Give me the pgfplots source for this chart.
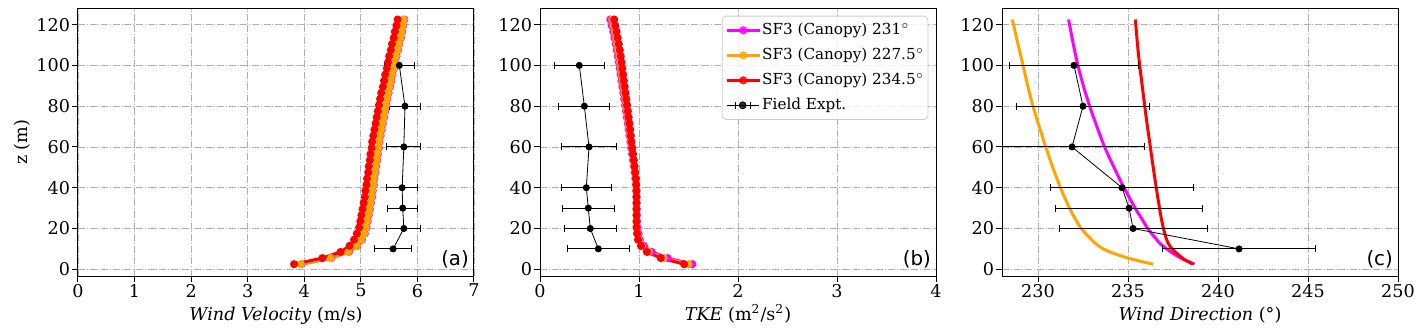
\documentclass[border=0pt]{standalone}
\usepackage{fontspec}
\setmainfont{DejaVu Serif}
\newfontfamily\dvsans{DejaVu Sans}
\usepackage{pgfplots}
\usepackage{pgfplotstable}
\pgfplotsset{compat=1.18}

\definecolor{gridgray}{RGB}{176,176,176}
\definecolor{sfmag}{RGB}{255,0,255}
\definecolor{sforange}{RGB}{255,165,0}
\definecolor{sfred}{RGB}{255,0,0}

% simulated profiles, SF3 canopy runs (velocity and TKE)
\pgfplotstableread{
z     u231 u227 u234 k231  k227  k234
2.5   3.95 3.94 3.82 1.540 1.500 1.455
5.5   4.48 4.47 4.32 1.290 1.250 1.220
8.5   4.79 4.78 4.64 1.130 1.100 1.080
11.5  4.94 4.93 4.80 1.050 1.030 1.020
14.5  5.02 5.01 4.88 1.010 1.000 0.990
17.5  5.07 5.06 4.93 0.995 0.985 0.980
20.5  5.10 5.09 4.97 0.985 0.975 0.975
23.5  5.12 5.11 4.99 0.980 0.975 0.975
26.5  5.14 5.13 5.01 0.978 0.975 0.975
29.5  5.16 5.15 5.03 0.976 0.975 0.975
32.5  5.18 5.17 5.05 0.975 0.975 0.975
35.5  5.20 5.19 5.07 0.974 0.975 0.975
38.5  5.21 5.20 5.08 0.972 0.974 0.975
41.5  5.23 5.22 5.10 0.969 0.971 0.972
44.5  5.24 5.23 5.11 0.963 0.966 0.968
47.5  5.26 5.25 5.13 0.956 0.960 0.962
50.5  5.27 5.26 5.14 0.948 0.952 0.955
53.5  5.29 5.28 5.16 0.939 0.944 0.948
56.5  5.30 5.29 5.17 0.930 0.936 0.940
59.5  5.32 5.31 5.19 0.921 0.927 0.932
62.5  5.33 5.32 5.20 0.912 0.919 0.925
65.5  5.35 5.34 5.22 0.903 0.911 0.918
68.5  5.37 5.36 5.24 0.895 0.903 0.911
71.5  5.39 5.38 5.26 0.886 0.895 0.904
74.5  5.41 5.40 5.28 0.877 0.887 0.896
77.5  5.43 5.42 5.30 0.868 0.878 0.888
80.5  5.45 5.44 5.32 0.859 0.869 0.880
83.5  5.47 5.46 5.34 0.850 0.861 0.872
86.5  5.49 5.48 5.36 0.841 0.852 0.864
89.5  5.52 5.51 5.39 0.832 0.844 0.856
92.5  5.54 5.53 5.41 0.823 0.835 0.848
95.5  5.56 5.55 5.43 0.814 0.826 0.840
98.5  5.59 5.58 5.46 0.805 0.817 0.832
101.5 5.61 5.60 5.48 0.796 0.809 0.824
104.5 5.63 5.62 5.50 0.786 0.800 0.816
107.5 5.66 5.65 5.53 0.775 0.789 0.806
110.5 5.68 5.67 5.55 0.764 0.778 0.796
113.5 5.71 5.70 5.58 0.752 0.767 0.785
116.5 5.73 5.72 5.60 0.740 0.755 0.774
119.5 5.75 5.74 5.63 0.725 0.743 0.762
122.5 5.77 5.76 5.65 0.710 0.730 0.750
}\profiles

% wind direction profiles
\pgfplotstableread{
z     d231   d227   d234
2.5   238.70 236.40 238.60
5     238.05 235.20 238.10
7.5   237.55 234.30 237.75
10    237.15 233.62 237.45
12.5  236.80 233.22 237.25
15    236.55 232.92 237.13
20    236.10 232.40 236.97
25    235.75 232.05 236.85
30    235.40 231.75 236.75
40    234.78 231.25 236.57
50    234.22 230.82 236.40
60    233.70 230.43 236.24
70    233.27 230.07 236.08
80    232.87 229.72 235.93
90    232.52 229.43 235.79
100   232.22 229.17 235.65
110   231.97 228.90 235.53
122.5 231.70 228.57 235.41
}\direction

% field experiment: value, half error, height
\pgfplotstableread{
z   u    eu   k     ek    d      ed
10  5.57 0.33 0.589 0.310 241.17 4.27
20  5.76 0.30 0.508 0.265 235.28 4.11
30  5.74 0.27 0.488 0.262 235.06 4.07
40  5.73 0.27 0.468 0.250 234.67 3.95
60  5.76 0.30 0.495 0.277 231.89 4.00
80  5.78 0.27 0.448 0.257 232.50 3.70
100 5.68 0.26 0.397 0.255 232.00 3.56
}\field

\newcommand{\fs}{\fontsize{8.8}{10.5}\selectfont}

\pgfplotsset{
  panel/.style={
    width=198pt, height=133.75pt, scale only axis,
    ymin=-3.3, ymax=127.9, ytick={0,20,...,120},
    grid=major,
    grid style={gridgray, line width=0.4pt, dash pattern=on 3.5pt off 0.9pt on 0.5pt off 0.9pt},
    axis line style={line width=0.5pt},
    tick align=outside, tick pos=left, major tick length=2.8pt,
    tick style={black, line width=0.5pt},
    ticklabel style={font=\fs, inner sep=1pt},
    /pgf/number format/assume math mode=true,
    every axis x label/.style={at={(axis description cs:0.5,-0.167)}, anchor=base, font=\fs},
    every axis y label/.style={at={(axis description cs:-0.142,0.5)}, rotate=90, anchor=center, font=\fs},
  },
  prof/.style={line width=1.5pt, mark=*, mark size=1.8pt, mark options={solid, line width=0.4pt}},
  line/.style={line width=1.5pt, no markers, smooth},
  field/.style={black, line width=0.4pt, mark=*, mark size=1.55pt,
    error bars/x dir=both, error bars/x explicit,
    error bars/error bar style={line width=0.5pt, black},
    error bars/error mark options={black, mark size=1.75pt, line width=0.5pt, rotate=90}},
}

\newcommand{\panellabel}[1]{\node[anchor=south east, inner sep=0pt, font=\dvsans\fontsize{9.9}{12}\selectfont] at (rel axis cs:0.988,0.029) {#1};}

\begin{document}
\begin{tikzpicture}
% (a) wind velocity
\begin{axis}[panel, at={(0pt,0pt)}, anchor=south west,
  xmin=0, xmax=7, xtick={0,1,...,7},
  xlabel={\textit{Wind Velocity} (m/s)}, ylabel={z (m)}]
\addplot[prof, sfmag] table[x=u231, y=z] {\profiles};
\addplot[prof, sforange] table[x=u227, y=z] {\profiles};
\addplot[prof, sfred] table[x=u234, y=z] {\profiles};
\addplot[field] table[x=u, y=z, x error=eu] {\field};
\panellabel{(a)}
\end{axis}

% (b) turbulent kinetic energy
\begin{axis}[panel, at={(231pt,0pt)}, anchor=south west,
  xmin=0, xmax=4, xtick={0,1,...,4},
  xlabel={\textit{TKE} (m\textsuperscript{2}/s\textsuperscript{2})},
  legend cell align=left,
  legend style={at={(rel axis cs:0.9806,0.973)}, anchor=north east,
    draw=black!20, rounded corners=2pt, fill=white, fill opacity=0.8, text opacity=1,
    font=\fontsize{7.6}{9}\selectfont, row sep=2.3pt, inner xsep=1.5pt,
    nodes={inner ysep=1.5pt, inner xsep=0.4pt, text height=5.6pt, text depth=1.6pt}},
  legend image post style={xscale=0.97}]
\addplot[prof, sfmag] table[x=k231, y=z] {\profiles};
\addlegendentry{SF3 (Canopy) 231$^\circ$}
\addplot[prof, sforange] table[x=k227, y=z] {\profiles};
\addlegendentry{SF3 (Canopy) 227.5$^\circ$}
\addplot[prof, sfred] table[x=k234, y=z] {\profiles};
\addlegendentry{SF3 (Canopy) 234.5$^\circ$}
\addplot[field, legend image code/.code={
    \draw[black, line width=0.4pt] (0pt,0pt) -- (16.5pt,0pt);
    \draw[black, line width=0.5pt] (4.5pt,-1.75pt) -- (4.5pt,1.75pt) (12pt,-1.75pt) -- (12pt,1.75pt);
    \fill[black] (8.25pt,0pt) circle (1.75pt);}]
  table[x=k, y=z, x error=ek] {\field};
\addlegendentry{Field Expt.}
\panellabel{(b)}
\end{axis}

% (c) wind direction
\begin{axis}[panel, at={(462pt,0pt)}, anchor=south west,
  xmin=228, xmax=250, xtick={230,235,...,250},
  xlabel={\textit{Wind Direction} (°)}]
\addplot[line, sfmag] table[x=d231, y=z] {\direction};
\addplot[line, sforange] table[x=d227, y=z] {\direction};
\addplot[line, sfred] table[x=d234, y=z] {\direction};
\addplot[field] table[x=d, y=z, x error=ed] {\field};
\panellabel{(c)}
\end{axis}

\pgfresetboundingbox
\useasboundingbox (-39pt,-29pt) rectangle (673.5pt,138pt);
\end{tikzpicture}
\end{document}
